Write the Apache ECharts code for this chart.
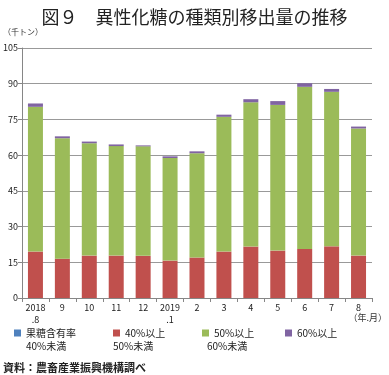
<!DOCTYPE html>
<html><head><meta charset="utf-8">
<script src="https://cdn.jsdelivr.net/npm/echarts@6/dist/echarts.min.js"></script>
<style>html,body{margin:0;padding:0;background:#fff}#c{width:389px;height:375px}</style>
</head><body><div id="c"></div>
<script>
var categories = ['2018\n.8','9','10','11','12','2019\n.1','2','3','4','5','6','7','8'];
var seriesNames = ['果糖含有率','40%以上','50%以上','60%以上'];
var secondLines = ['40%未満','50%未満','60%未満',''];
var below40 = [0,0,0,0,0,0,0,0,0,0,0,0,0];
var from40to50 = [19.5,16.5,17.8,17.8,17.7,15.7,17.0,19.5,21.6,19.9,20.6,21.7,17.8];
var from50to60 = [60.8,50.6,47.2,46.0,46.0,43.1,43.8,56.6,60.6,61.2,68.1,64.9,53.4];
var above60 = [1.4,0.8,0.7,0.7,0.4,0.7,0.8,0.9,1.3,1.6,1.5,1.2,0.8];
var yTicks = [0,15,30,45,60,75,90,105];
var colors = ['#4F81BD','#C0504D','#9BBB59','#8064A2'];
var font = "'Noto Sans CJK JP', 'Noto Sans', sans-serif";
var chart = echarts.init(document.getElementById('c'), null, {renderer:'canvas'});
var datas = [below40, from40to50, from50to60, above60];
var legendLeft = [14, 113, 202, 285];
var secondLeft = [26, 113, 207, 0];
var graphics = [
  {type:'text', left:3, top:28, style:{text:'（千トン）', fontSize:8, fill:'#333', fontFamily:font}},
  {type:'text', right:2, top:313, style:{text:'（年.月）', fontSize:9, fill:'#333', fontFamily:font}},
  {type:'text', left:3, top:362, style:{text:'資料：農畜産業振興機構調べ', fontSize:11, fontWeight:'bold', fill:'#222', fontFamily:font}}
];
secondLines.forEach(function(t,i){ if(t) graphics.push({type:'text', left:secondLeft[i], top:341,
  style:{text:t, fontSize:10, fill:'#222', fontFamily:font}}); });
chart.setOption({
  animation:false,
  color: colors,
  textStyle:{fontFamily:font},
  title:{text:'図９　異性化糖の種類別移出量の推移', left:'center', top:3,
    textStyle:{fontSize:18, fontWeight:'normal', color:'#222', fontFamily:font}},
  legend: seriesNames.map(function(n,i){return {
    data:[n], left:legendLeft[i], top:328, itemWidth:7, itemHeight:7, itemGap:0,
    icon:'rect', textStyle:{fontSize:10, color:'#222', fontFamily:font}, padding:0
  };}),
  graphic: graphics,
  grid:{left:21, right:17, top:48, bottom:77},
  xAxis:{type:'category', data:categories,
    axisLine:{lineStyle:{color:'#868686'}},
    axisTick:{show:true, length:4, lineStyle:{color:'#868686'}},
    axisLabel:{fontSize:9, color:'#222', lineHeight:12, margin:4, interval:0, fontFamily:font}},
  yAxis:{type:'value', min:0, max:105, interval:15,
    axisLine:{show:true, lineStyle:{color:'#868686'}},
    axisTick:{show:true, length:4, lineStyle:{color:'#868686'}},
    splitLine:{lineStyle:{color:'#999'}},
    axisLabel:{fontSize:9, color:'#222', margin:4, fontFamily:font,
      formatter:function(v){return yTicks.indexOf(v)>=0 ? String(v) : '';}}},
  series: datas.map(function(d,i){return {
    name:seriesNames[i], type:'bar', stack:'total', data:d, barWidth:15
  };})
});
</script></body></html>
